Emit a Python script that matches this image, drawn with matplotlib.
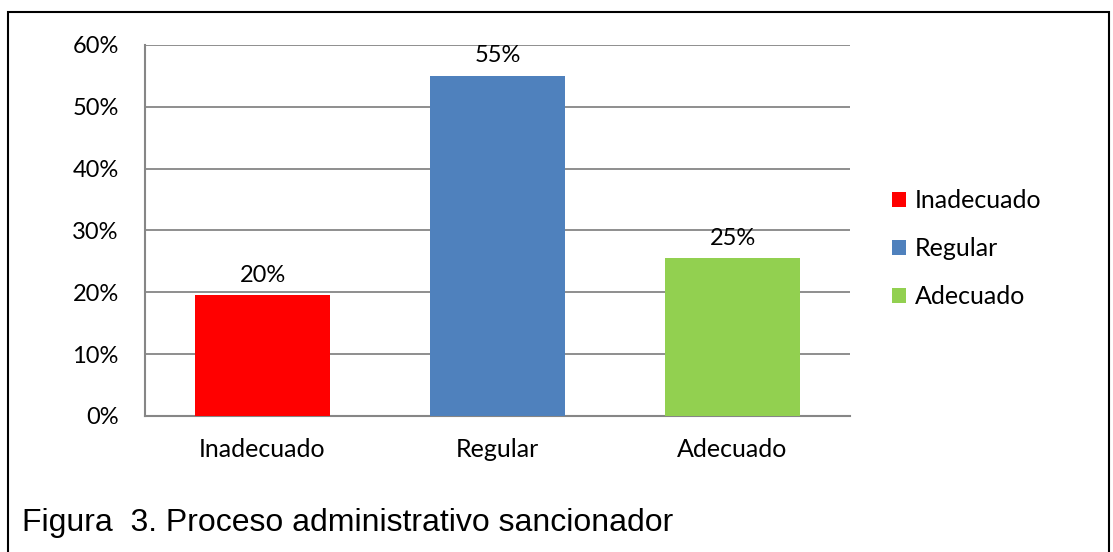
import matplotlib.pyplot as plt
from matplotlib.patches import Patch, Rectangle

categories = ['Inadecuado', 'Regular', 'Adecuado']
values = [19.5, 55.0, 25.5]
value_labels = ['20%', '55%', '25%']
colors = ['#FF0000', '#4F81BD', '#92D050']
yticks = [0, 10, 20, 30, 40, 50, 60]
caption = 'Figura  3. Proceso administrativo sancionador'


def main():
    fig = plt.figure(figsize=(11.13, 5.52), dpi=100)
    ax = fig.add_axes([0.1303, 0.2464, 0.6334, 0.6721])

    x = range(len(categories))
    ax.bar(x, values, width=0.575, color=colors, zorder=3)

    for i, (v, lab) in enumerate(zip(values, value_labels)):
        ax.annotate(lab, xy=(i, v), xytext=(0, 7), textcoords='offset points',
                    ha='center', va='bottom', fontsize=17, family='Lato')

    ax.set_xlim(-0.5, len(categories) - 0.5)
    ax.set_ylim(0, 60)
    ax.set_yticks(yticks)
    ax.set_yticklabels([f'{t}%' for t in yticks], family='Lato', fontsize=17)
    ax.set_xticks(list(x))
    ax.set_xticklabels(categories, family='Lato', fontsize=18)
    ax.tick_params(axis='y', length=0, pad=19)
    ax.tick_params(axis='x', length=0, pad=16)

    ax.yaxis.grid(True, color='#868686', lw=1.3, zorder=0)
    for s in ['top', 'right']:
        ax.spines[s].set_visible(False)
    for s in ['left', 'bottom']:
        ax.spines[s].set_color('#868686')
        ax.spines[s].set_linewidth(1.5)

    handles = [Patch(facecolor=c, label=l) for c, l in zip(colors, categories)]
    fig.legend(handles=handles, loc='center left', bbox_to_anchor=(0.7925, 0.549),
               frameon=False, prop={'family': 'Lato', 'size': 18},
               handlelength=0.56, handleheight=0.56, handletextpad=0.35,
               labelspacing=1.0, borderaxespad=0)

    fig.text(0.02, 0.052, caption, family='Liberation Sans', fontsize=23,
             va='center', ha='left')

    # outer frame
    fig.patches.append(Rectangle((0.0072, -0.1), 0.9892, 1.0783,
                                 transform=fig.transFigure, fill=False,
                                 edgecolor='black', lw=1.5))

    fig.savefig('out.png', dpi=100)


if __name__ == '__main__':
    main()
